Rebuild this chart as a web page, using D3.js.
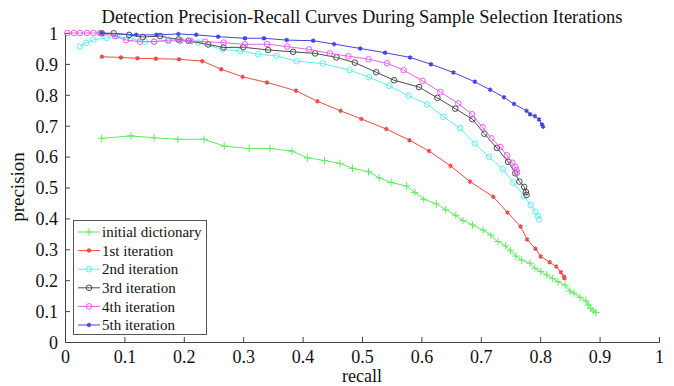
<!DOCTYPE html>
<html>
<head>
<meta charset="utf-8">
<script src="https://cdn.jsdelivr.net/npm/d3@7"></script>
<style>
  body { margin: 0; background: #fff; }
  svg text { font-family: "Liberation Serif", "DejaVu Serif", serif; fill: #111; }
</style>
</head>
<body>
<div id="chart"></div>
<script>
const width = 674;
const height = 386;
const margin = {top: 33, right: 15, bottom: 44, left: 65};

const xTicks = [0, 0.1, 0.2, 0.3, 0.4, 0.5, 0.6, 0.7, 0.8, 0.9, 1];
const yTicks = [0, 0.1, 0.2, 0.3, 0.4, 0.5, 0.6, 0.7, 0.8, 0.9, 1];

// [recall, precision]
const initialDictionary = [
    [0.062, 0.659], [0.111, 0.667], [0.150, 0.661], [0.190, 0.656], [0.234, 0.656],
    [0.268, 0.634], [0.310, 0.626], [0.345, 0.626], [0.382, 0.618], [0.408, 0.596],
    [0.437, 0.587], [0.463, 0.578], [0.484, 0.562], [0.511, 0.551], [0.529, 0.531],
    [0.549, 0.516], [0.575, 0.505], [0.589, 0.484], [0.604, 0.462], [0.625, 0.447],
    [0.641, 0.428], [0.658, 0.410], [0.670, 0.393], [0.686, 0.379], [0.704, 0.362],
    [0.717, 0.346], [0.729, 0.325], [0.742, 0.311], [0.750, 0.295], [0.759, 0.278],
    [0.769, 0.265], [0.783, 0.255], [0.791, 0.239], [0.801, 0.228], [0.811, 0.217],
    [0.821, 0.206], [0.830, 0.195], [0.842, 0.184], [0.850, 0.165], [0.857, 0.158],
    [0.867, 0.145], [0.877, 0.133], [0.881, 0.120], [0.885, 0.109], [0.889, 0.101],
    [0.894, 0.095]
];
const iteration1 = [
    [0.062, 0.923], [0.094, 0.921], [0.122, 0.918], [0.153, 0.917], [0.192, 0.915],
    [0.231, 0.909], [0.263, 0.883], [0.299, 0.858], [0.340, 0.840], [0.389, 0.813],
    [0.425, 0.779], [0.464, 0.748], [0.499, 0.722], [0.541, 0.689], [0.580, 0.653],
    [0.613, 0.618], [0.649, 0.570], [0.682, 0.519], [0.721, 0.470], [0.745, 0.419],
    [0.767, 0.374], [0.778, 0.332], [0.792, 0.302], [0.801, 0.277], [0.816, 0.258],
    [0.827, 0.244], [0.835, 0.226], [0.840, 0.211], [0.841, 0.206]
];
const iteration2 = [
    [0.025, 0.956], [0.036, 0.968], [0.048, 0.978], [0.070, 0.984], [0.087, 0.990],
    [0.110, 0.982], [0.135, 0.972], [0.150, 0.972], [0.174, 0.974], [0.194, 0.974],
    [0.224, 0.969], [0.265, 0.947], [0.295, 0.942], [0.325, 0.931], [0.356, 0.926],
    [0.390, 0.909], [0.434, 0.901], [0.479, 0.880], [0.512, 0.857], [0.546, 0.829],
    [0.578, 0.797], [0.610, 0.769], [0.637, 0.729], [0.665, 0.692], [0.690, 0.642],
    [0.714, 0.599], [0.737, 0.559], [0.755, 0.516], [0.773, 0.472], [0.784, 0.443],
    [0.792, 0.422], [0.796, 0.408], [0.798, 0.397]
];
const iteration3 = [
    [0.062, 0.999], [0.082, 0.999], [0.108, 0.994], [0.131, 0.987], [0.160, 0.990],
    [0.191, 0.979], [0.208, 0.975], [0.241, 0.963], [0.267, 0.953], [0.300, 0.954],
    [0.342, 0.945], [0.384, 0.939], [0.421, 0.934], [0.457, 0.921], [0.488, 0.904],
    [0.524, 0.873], [0.554, 0.847], [0.596, 0.825], [0.627, 0.790], [0.657, 0.755],
    [0.686, 0.721], [0.706, 0.674], [0.727, 0.628], [0.746, 0.583], [0.758, 0.546],
    [0.765, 0.519], [0.773, 0.502], [0.776, 0.485], [0.777, 0.476]
];
const iteration4 = [
    [0.004, 1.0], [0.015, 1.0], [0.025, 1.0], [0.037, 1.0], [0.048, 1.0], [0.059, 1.0],
    [0.084, 0.990], [0.103, 0.977], [0.126, 0.972], [0.150, 0.972], [0.174, 0.977],
    [0.194, 0.977], [0.212, 0.974], [0.236, 0.972], [0.267, 0.969], [0.303, 0.963],
    [0.340, 0.964], [0.374, 0.956], [0.411, 0.947], [0.446, 0.934], [0.477, 0.925],
    [0.511, 0.915], [0.542, 0.902], [0.570, 0.880], [0.602, 0.845], [0.632, 0.809],
    [0.662, 0.772], [0.685, 0.737], [0.703, 0.695], [0.718, 0.659], [0.733, 0.631],
    [0.744, 0.604], [0.753, 0.580], [0.758, 0.567], [0.760, 0.557], [0.761, 0.548]
];
const iteration5 = [
    [0.062, 1.0], [0.120, 0.994], [0.154, 0.994], [0.191, 0.997], [0.221, 0.994],
    [0.258, 0.988], [0.303, 0.983], [0.335, 0.983], [0.373, 0.977], [0.418, 0.975],
    [0.453, 0.964], [0.497, 0.950], [0.539, 0.936], [0.581, 0.921], [0.616, 0.899],
    [0.654, 0.872], [0.690, 0.842], [0.716, 0.816], [0.739, 0.792], [0.756, 0.770],
    [0.777, 0.748], [0.783, 0.737], [0.791, 0.731], [0.798, 0.720], [0.803, 0.704],
    [0.805, 0.697]
];

const seriesNames = ["initial dictionary", "1st iteration", "2nd iteration", "3rd iteration", "4th iteration", "5th iteration"];
const seriesData = [initialDictionary, iteration1, iteration2, iteration3, iteration4, iteration5];
const seriesColors = ["#5fea5f", "#ee4a4a", "#5feeee", "#4a4a4a", "#e860e8", "#4444e6"];
const seriesMarkers = ["plus", "star", "circle", "circle", "circle", "star"];

const svg = d3.select("#chart").append("svg")
    .attr("width", width)
    .attr("height", height);

const x = d3.scaleLinear().domain([0, 1]).range([margin.left, width - margin.right]);
const y = d3.scaleLinear().domain([0, 1]).range([height - margin.bottom, margin.top]);

// title
svg.append("text")
    .attr("x", 362)
    .attr("y", 23)
    .attr("text-anchor", "middle")
    .style("font-size", "18.5px")
    .text("Detection Precision-Recall Curves During Sample Selection Iterations");

// axes (ticks point inward)
const xAxis = svg.append("g")
    .attr("transform", "translate(0," + (height - margin.bottom) + ")")
    .call(d3.axisBottom(x).tickValues(xTicks).tickFormat(d3.format("")).tickSize(-5).tickPadding(8));
const yAxis = svg.append("g")
    .attr("transform", "translate(" + margin.left + ",0)")
    .call(d3.axisLeft(y).tickValues(yTicks).tickFormat(d3.format("")).tickSize(-5).tickPadding(7));

[xAxis, yAxis].forEach(a => {
    a.select(".domain").attr("stroke", "#444");
    a.selectAll(".tick line").attr("stroke", "#444");
    a.selectAll(".tick text").style("font-size", "18px").attr("fill", "#111")
        .style("font-family", "'Liberation Serif', 'DejaVu Serif', serif");
});
yAxis.selectAll(".tick text").attr("dy", "0.35em");

svg.append("text")
    .attr("x", 362)
    .attr("y", 382)
    .attr("text-anchor", "middle")
    .style("font-size", "18px")
    .text("recall");

svg.append("text")
    .attr("transform", "translate(24,187) rotate(-90)")
    .attr("text-anchor", "middle")
    .style("font-size", "19px")
    .text("precision");

const line = d3.line()
    .x(d => x(d[0]))
    .y(d => y(d[1]));

function drawMarker(g, type, color, cx, cy) {
    if (type === "circle") {
        g.append("circle")
            .attr("cx", cx).attr("cy", cy).attr("r", 2.8)
            .attr("fill", "none").attr("stroke", color).attr("stroke-width", 1);
    } else if (type === "plus") {
        g.append("path")
            .attr("transform", "translate(" + cx + "," + cy + ")")
            .attr("d", d3.symbol().type(d3.symbolPlus).size(20)())
            .attr("fill", "none").attr("stroke", color).attr("stroke-width", 1);
    } else {
        g.append("path")
            .attr("transform", "translate(" + cx + "," + cy + ")")
            .attr("d", d3.symbol().type(d3.symbolAsterisk).size(14)())
            .attr("fill", "none").attr("stroke", color).attr("stroke-width", 1.4);
    }
}

seriesData.forEach((data, i) => {
    const g = svg.append("g").attr("class", "series");
    g.append("path")
        .datum(data)
        .attr("d", line)
        .attr("fill", "none")
        .attr("stroke", seriesColors[i])
        .attr("stroke-width", 1);
    data.forEach(d => drawMarker(g, seriesMarkers[i], seriesColors[i], x(d[0]), y(d[1])));
});

// legend
const legend = svg.append("g");
legend.append("rect")
    .attr("x", 73.5).attr("y", 220.5)
    .attr("width", 133).attr("height", 114)
    .attr("fill", "#fff").attr("stroke", "#555");
seriesNames.forEach((name, i) => {
    const ly = 232 + i * 18.6;
    legend.append("line")
        .attr("x1", 78).attr("x2", 100).attr("y1", ly).attr("y2", ly)
        .attr("stroke", seriesColors[i]).attr("stroke-width", 1);
    drawMarker(legend, seriesMarkers[i], seriesColors[i], 89, ly);
    legend.append("text")
        .attr("x", 102).attr("y", ly)
        .attr("dy", "0.35em")
        .style("font-size", "15px")
        .text(name);
});
</script>
</body>
</html>
